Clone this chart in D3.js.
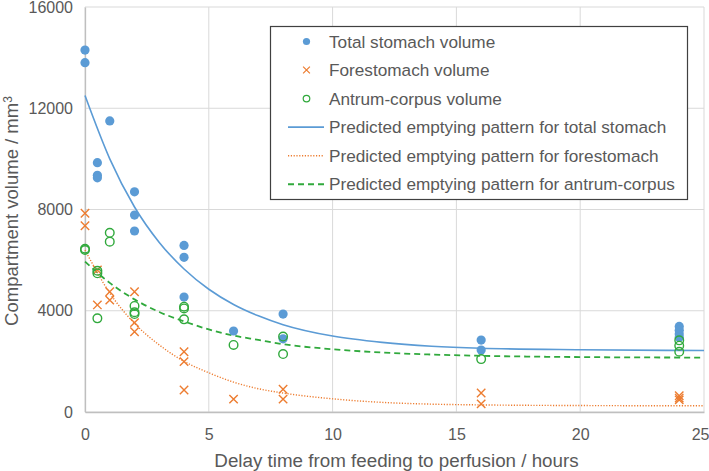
<!DOCTYPE html>
<html><head><meta charset="utf-8">
<script src="https://cdn.jsdelivr.net/npm/d3@7"></script>
<style>body{margin:0;background:#fff}svg{display:block;font-family:"Liberation Sans",Arial,sans-serif}</style>
</head><body><svg id="c" width="709" height="471"></svg>
<script>
// Observed data: [hours, volume mm3]
const totalStomach = [[0,14300],[0,13800],[0.5,9850],[0.5,9350],[0.5,9250],[1,11500],[2,8700],[2,7780],[2,7150],
  [4,6580],[4,6110],[4,4540],[6,3200],[8,3870],[8,2890],[16,2840],[16,2450],[24,3380],[24,3230],[24,3080],[24,2950]];
const forestomach = [[0,7850],[0,7360],[0.5,5610],[0.5,4230],[1,4750],[1,4420],[2,4750],[2,3530],[2,3170],
  [4,2380],[4,1990],[4,870],[6,510],[8,900],[8,510],[16,750],[16,320],[24,640],[24,550],[24,480]];
const antrumCorpus = [[0,6450],[0,6400],[0.5,5580],[0.5,5480],[0.5,3700],[1,7080],[1,6730],[2,4190],[2,3940],[2,3870],
  [4,4160],[4,4090],[4,3660],[6,2650],[8,2980],[8,2290],[16,2090],[24,2830],[24,2620],[24,2380]];
// Predicted curves
const predTotal = [[0,12500],[1,10000],[2,8100],[3,6700],[4,5650],[5,4850],[6,4250],[7,3800],[8,3450],[10,3000],[12,2750],[14,2600],[16,2520],[20,2460],[25,2430]];
const predFore = [[0,6400],[1,4700],[2,3500],[3,2650],[4,2000],[5,1550],[6,1180],[7,920],[8,750],[10,520],[12,380],[14,310],[16,280],[20,255],[25,245]];
const predAntrum = [[0,5940],[1,5100],[2,4450],[3,3950],[4,3580],[5,3260],[6,3020],[7,2850],[8,2680],[10,2480],[12,2350],[14,2270],[16,2220],[20,2170],[25,2150]];
const xTicks = [0,5,10,15,20,25];
const yTicks = [0,4000,8000,12000,16000];
const legendLabels = ["Total stomach volume","Forestomach volume","Antrum-corpus volume",
  "Predicted emptying pattern for total stomach","Predicted emptying pattern for forestomach","Predicted emptying pattern for antrum-corpus"];

const blue="#5b9bd5", orange="#ed7d31", green="#30a93c", txt="#595959";
const svg=d3.select("#c");
const L=85,R=704,T=7,B=412;
const x=d3.scaleLinear().domain([0,25]).range([L,R]);
const y=d3.scaleLinear().domain([0,16000]).range([B,T]);

// grid
svg.append("g").selectAll("line.v").data(xTicks).join("line")
  .attr("x1",d=>x(d)).attr("x2",d=>x(d)).attr("y1",T).attr("y2",B).attr("stroke","#d9d9d9").attr("stroke-width",1);
svg.append("g").selectAll("line.h").data(yTicks).join("line")
  .attr("x1",L).attr("x2",R).attr("y1",d=>y(d)).attr("y2",d=>y(d)).attr("stroke","#d9d9d9").attr("stroke-width",1);

// axes
const xAxis=svg.append("g").attr("transform",`translate(0,${B})`).call(d3.axisBottom(x).tickValues(xTicks).tickSize(0).tickPadding(17));
const yAxis=svg.append("g").attr("transform",`translate(${L},0)`).call(d3.axisLeft(y).tickValues(yTicks).tickSize(0).tickPadding(12).tickFormat(d3.format("d")));
[xAxis,yAxis].forEach(a=>{a.select(".domain").attr("stroke","#bfbfbf").attr("stroke-width",1.3);
  a.selectAll("text").attr("fill",txt).attr("font-size",16).attr("font-family","Liberation Sans, Arial, sans-serif");});
xAxis.selectAll(".tick").filter(d=>d===25).select("text").attr("text-anchor","end").attr("x",5);

svg.append("text").attr("x",(L+R)/2+2).attr("y",467).attr("text-anchor","middle").attr("fill",txt).attr("font-size",18.8)
  .text("Delay time from feeding to perfusion / hours");
const yl=svg.append("text").attr("transform",`translate(18,211) rotate(-90)`).attr("text-anchor","middle").attr("fill",txt).attr("font-size",18.5);
yl.append("tspan").text("Compartment volume / mm");
yl.append("tspan").attr("dy",-6).attr("font-size",12).text("3");

// curves
const line=d3.line().x(d=>x(d[0])).y(d=>y(d[1])).curve(d3.curveMonotoneX);
svg.append("path").datum(predTotal).attr("d",line).attr("fill","none").attr("stroke",blue).attr("stroke-width",1.6);
svg.append("path").datum(predFore).attr("d",line).attr("fill","none").attr("stroke",orange).attr("stroke-width",1.4).attr("stroke-dasharray","1.2,1.6");
svg.append("path").datum(predAntrum).attr("d",line).attr("fill","none").attr("stroke",green).attr("stroke-width",1.8).attr("stroke-dasharray","6,4");

// markers
function cross(g,cx,cy,s,w){
  g.append("path").attr("d",`M${cx-s},${cy-s}L${cx+s},${cy+s}M${cx-s},${cy+s}L${cx+s},${cy-s}`).attr("stroke",orange).attr("stroke-width",w).attr("fill","none");
}
const gm=svg.append("g");
gm.selectAll("circle.t").data(totalStomach).join("circle").attr("cx",d=>x(d[0])).attr("cy",d=>y(d[1])).attr("r",4.6).attr("fill",blue);
forestomach.forEach(d=>cross(gm,x(d[0]),y(d[1]),4.2,1.4));
gm.selectAll("circle.a").data(antrumCorpus).join("circle").attr("cx",d=>x(d[0])).attr("cy",d=>y(d[1])).attr("r",4.3).attr("fill","none").attr("stroke",green).attr("stroke-width",1.4);

// legend
const lg=svg.append("g");
lg.append("rect").attr("x",270.5).attr("y",26.5).attr("width",417).attr("height",173).attr("fill","#fff").attr("stroke","#404040").attr("stroke-width",1.2);
const rowY=i=>41.5+i*28.55;
lg.append("circle").attr("cx",306.5).attr("cy",rowY(0)).attr("r",3.6).attr("fill",blue);
cross(lg,306.5,rowY(1),3.4,1.2);
lg.append("circle").attr("cx",306.5).attr("cy",rowY(2)).attr("r",3.3).attr("fill","none").attr("stroke",green).attr("stroke-width",1.2);
lg.append("line").attr("x1",288).attr("x2",324).attr("y1",rowY(3)).attr("y2",rowY(3)).attr("stroke",blue).attr("stroke-width",1.6);
lg.append("line").attr("x1",288).attr("x2",324).attr("y1",rowY(4)).attr("y2",rowY(4)).attr("stroke",orange).attr("stroke-width",1.4).attr("stroke-dasharray","1.2,1.6");
lg.append("line").attr("x1",288).attr("x2",324).attr("y1",rowY(5)).attr("y2",rowY(5)).attr("stroke",green).attr("stroke-width",1.8).attr("stroke-dasharray","6,4");
lg.selectAll("text").data(legendLabels).join("text").attr("x",329).attr("y",(d,i)=>rowY(i)).attr("dy","0.35em")
  .attr("fill",txt).attr("font-size",17.2).text(d=>d);
</script></body></html>
